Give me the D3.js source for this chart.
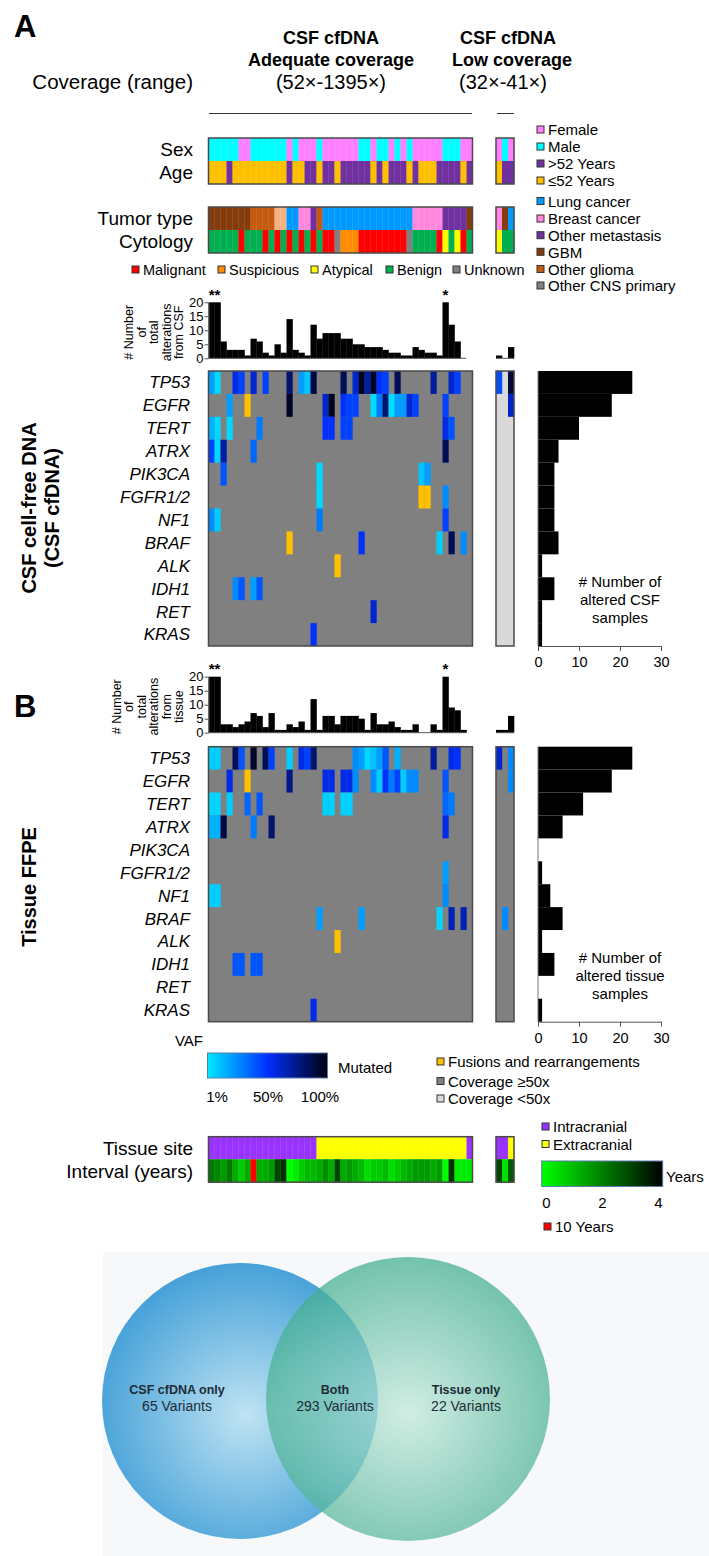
<!DOCTYPE html>
<html><head><meta charset="utf-8">
<script src="https://cdn.jsdelivr.net/npm/d3@7"></script>
<style>body{margin:0;background:#fff;} svg{display:block;font-family:"Liberation Sans",Arial,sans-serif;}</style>
</head><body><svg id="c" width="709" height="1556"></svg>
<script>
// ---------------- DATA ----------------
const nMain = 44, nLow = 3;
const genes = ["TP53","EGFR","TERT","ATRX","PIK3CA","FGFR1/2","NF1","BRAF","ALK","IDH1","RET","KRAS"];
// clinical tracks (44 adequate-coverage samples + 3 low-coverage samples)
const sexCodes   = ("MMMMMFFMMMMMMFMFFFMFFFFFFMMFMMFMFMFFFFFMMMFF" + "FMF").split("");
const ageCodes   = ("YYYOYYYYYYYYYOYYOOYOOYOOOOOYOYOOOYOYYYOOOOYO" + "YOO").split("");
const tumorCodes = ("GGGGGGGOOOOCCLLBBMOLLLLLLLLLLLLLLLBBBBBMMMMG" + "BGL").split("");
const cytoCodes  = ("NNNNNXNNNXNXNXNXNXNXXUSSSXXXXXXXXUNNNNXANAXN" + "ANN").split("");
const siteCodes  = ("IIIIIIIIIIIIIIIIIIEEEEEEEEEEEEEEEEEEEEEEEEEI" + "IIE").split("");
const intervalYears = [2.1,1.9,1.6,2.1,1.3,0.8,1.3,10,1.3,1.3,1.6,2.9,3.2,0,0.3,0.8,1.1,1.1,1.3,1.75,1.3,2.9,1.3,1.6,1.3,1.1,0.5,0.8,0.8,1.1,0.5,0.8,1.1,1.3,1.6,1.6,1.6,1.3,1.6,0,3.2,0.3,0.3,0.3, 2.9,0.5,2.6];
// total alterations per sample
const csfTotals    = [20,20,6,3,3,3,1,7,6,2,1,5,2,14,3,2,1,12,7,9,9,9,7,7,5,5,4,4,4,3,2,2,1,1,4,3,2,2,1,20,12,6,0,0, 1,0,4];
const tissueTotals = [20,20,3,3,2,3,4,7,6,2,7,1,1,3,2,4,1,12,1,6,6,3,6,6,6,5,1,7,3,3,4,2,1,1,3,0,0,3,1,20,9,8,1,0, 1,1,6];
// altered samples per gene
const csfGeneCounts    = [23,18,10,5,4,4,4,5,1,4,1,1];
const tissueGeneCounts = [23,18,11,6,0,1,3,6,1,4,0,1];
// heatmap cells: [sample index, VAF or "F" (fusion)]; indices 44-46 are low-coverage samples
const csfTP53   = [[0,.2],[1,.04],[4,.55],[5,.45],[7,.6],[9,.45],[13,.8],[15,.2],[16,.1],[17,.9],[22,.85],[24,.6],[25,.97],[26,.7],[27,.95],[28,.5],[29,.45],[31,.85],[37,.7],[40,.6],[41,.45],[44,.42],[46,.92]];
const csfEGFR   = [[3,.2],[6,"F"],[13,.95],[19,.6],[20,.97],[22,.5],[23,.45],[24,.45],[27,.03],[28,.3],[29,.8],[30,.03],[31,.2],[32,.2],[33,.6],[34,.45],[39,.45],[46,.62]];
const csfTERT   = [[0,.15],[1,.04],[3,.04],[8,.3],[19,.5],[20,.5],[22,.45],[23,.45],[39,.55],[40,.4]];
const csfATRX   = [[0,.45],[1,.05],[2,.7],[7,.35],[39,.85]];
const csfPIK3CA = [[2,.4],[18,.04],[35,.1],[36,.2]];
const csfFGFR   = [[18,.04],[35,"F"],[36,"F"],[39,.25]];
const csfNF1    = [[0,.25],[1,.08],[18,.3],[39,.45]];
const csfBRAF   = [[13,"F"],[25,.5],[38,.07],[40,.85],[42,.25]];
const csfALK    = [[21,"F"]];
const csfIDH1   = [[4,.25],[5,.4],[7,.2],[8,.4]];
const csfRET    = [[27,.6]];
const csfKRAS   = [[17,.5]];
const tisTP53   = [[0,.07],[1,.07],[4,.85],[5,.4],[7,.95],[9,.85],[10,.45],[13,.07],[15,.55],[16,.45],[17,.8],[24,.25],[25,.2],[26,.04],[27,.1],[28,.2],[29,.4],[31,.15],[37,.7],[40,.55],[41,.5],[44,.6],[46,.25]];
const tisEGFR   = [[3,.55],[6,"F"],[13,.75],[19,.55],[20,.55],[22,.55],[23,.55],[24,.25],[27,.25],[28,.07],[29,.5],[30,.3],[31,.45],[32,.07],[33,.25],[34,.25],[39,.4],[46,.25]];
const tisTERT   = [[0,.05],[1,.05],[3,.07],[6,.35],[8,.4],[19,.06],[20,.06],[22,.06],[23,.06],[39,.35],[40,.3]];
const tisATRX   = [[0,.15],[1,.15],[2,.9],[7,.3],[10,.8],[39,.55]];
const tisPIK3CA = [];
const tisFGFR   = [[39,.2]];
const tisNF1    = [[0,.07],[1,.07],[39,.25]];
const tisBRAF   = [[18,.2],[25,.2],[38,.05],[40,.65],[42,.65],[45,.25]];
const tisALK    = [[21,"F"]];
const tisIDH1   = [[4,.4],[5,.4],[7,.4],[8,.4]];
const tisRET    = [];
const tisKRAS   = [[17,.55]];
const csfCells = [csfTP53,csfEGFR,csfTERT,csfATRX,csfPIK3CA,csfFGFR,csfNF1,csfBRAF,csfALK,csfIDH1,csfRET,csfKRAS];
const tisCells = [tisTP53,tisEGFR,tisTERT,tisATRX,tisPIK3CA,tisFGFR,tisNF1,tisBRAF,tisALK,tisIDH1,tisRET,tisKRAS];
// venn
const vennLabels = ["CSF cfDNA only","Both","Tissue only"];
const vennCounts = [65,293,22];
// axis ticks
const altTicks = [0,5,10,15,20];
const geneTicks = [0,10,20,30];
const yearTicks = [0,2,4];

// ---------------- COLORS ----------------
const sexColor = {F:"#ff80ff", M:"#00ffff"};
const ageColor = {O:"#7030a0", Y:"#ffc000"};
const tumorColor = {L:"#0099ff", B:"#ff88dd", M:"#7030a0", G:"#843c0c", O:"#c55a11", C:"#f4b183"};
const cytoColor = {X:"#ff0000", S:"#ff8c00", A:"#ffff00", N:"#00b050", U:"#808080"};
const siteColor = {I:"#9933ff", E:"#ffff00"};
const vaf = d3.scaleLinear().domain([0,0.5,1]).range(["#00e8ff","#0030ff","#000010"]);
const yearColor = d3.scaleLinear().domain([0,4]).range(["#00ff00","#000000"]).clamp(true);
const FUSION = "#ffc000";

// ---------------- SCALES ----------------
const svg = d3.select("#c");
const xMain = d3.scaleBand().domain(d3.range(nMain)).range([208.5, 472.5]);
const xLow = d3.scaleBand().domain(d3.range(nMain, nMain+nLow)).range([496, 514]);
const xOf = i => i < nMain ? xMain(i) : xLow(i);
const cw = xMain.bandwidth();
const FRAME = "#4a4a4a";

function frame(x, y, w, h) {
  svg.append("rect").attr("x",x).attr("y",y).attr("width",w).attr("height",h)
    .attr("fill","none").attr("stroke",FRAME).attr("stroke-width",1.5);
}
function text(x, y, s, o={}) {
  const t = svg.append("text").attr("x",x).attr("y",y).text(s)
    .attr("font-size",o.size||14).attr("fill",o.fill||"#000")
    .attr("text-anchor",o.anchor||"start");
  if (o.weight) t.attr("font-weight",o.weight);
  if (o.style) t.attr("font-style",o.style);
  if (o.dy) t.attr("dy",o.dy);
  return t;
}
function track(y, h, codes, cmap) {
  svg.append("g").selectAll("rect").data(codes).join("rect")
    .attr("x",(d,i)=>xOf(i)).attr("y",y).attr("width",cw+0.3).attr("height",h)
    .attr("fill",(d,i)=> typeof cmap === "function" ? cmap(d) : cmap[d]);
}
function groupFrames(y, h) {
  frame(208.5, y, nMain*cw, h);
  frame(496, y, nLow*cw, h);
}

// ---------------- HEADER ----------------
text(14, 37, "A", {size:31, weight:"bold"});
text(14, 717, "B", {size:31, weight:"bold"});
text(331, 44, "CSF cfDNA", {size:18, weight:"bold", anchor:"middle"});
text(331, 66, "Adequate coverage", {size:18, weight:"bold", anchor:"middle"});
text(331, 89, "(52×-1395×)", {size:20, anchor:"middle"});
text(508, 44, "CSF cfDNA", {size:18, weight:"bold", anchor:"middle"});
text(512, 66, "Low coverage", {size:18, weight:"bold", anchor:"middle"});
text(503, 89, "(32×-41×)", {size:20, anchor:"middle"});
text(193, 89, "Coverage (range)", {size:20.5, anchor:"end"});
svg.append("line").attr("x1",209).attr("x2",472).attr("y1",113.5).attr("y2",113.5).attr("stroke","#333");
svg.append("line").attr("x1",497).attr("x2",514).attr("y1",113.5).attr("y2",113.5).attr("stroke","#333");

// ---------------- CLINICAL TRACKS ----------------
const trackH = 23;
track(138, trackH, sexCodes, sexColor);
track(161, trackH, ageCodes, ageColor);
groupFrames(138, 2*trackH);
track(207, trackH, tumorCodes, tumorColor);
track(230, trackH, cytoCodes, cytoColor);
groupFrames(207, 2*trackH);
text(193, 156, "Sex", {size:19, anchor:"end"});
text(193, 179, "Age", {size:19, anchor:"end"});
text(193, 225, "Tumor type", {size:19, anchor:"end"});
text(193, 248, "Cytology", {size:19, anchor:"end"});

function legendItem(x, y, color, label, size) {
  svg.append("rect").attr("x",x).attr("y",y-4).attr("width",7).attr("height",7)
    .attr("fill",color).attr("stroke","#333").attr("stroke-width",1);
  text(x+11, y, label, {size:size||15, dy:"0.35em"});
}
[["Female",sexColor.F,130],["Male",sexColor.M,147],[">52 Years",ageColor.O,164],["≤52 Years",ageColor.Y,181],
 ["Lung cancer",tumorColor.L,201.5],["Breast cancer",tumorColor.B,219],["Other metastasis",tumorColor.M,235.7],
 ["GBM",tumorColor.G,252.3],["Other glioma",tumorColor.O,269.5],["Other CNS primary","#808080",286]]
 .forEach(d=>legendItem(537, d[2], d[1], d[0]));
[["Malignant",cytoColor.X,132],["Suspicious",cytoColor.S,218],["Atypical",cytoColor.A,311],["Benign",cytoColor.N,386],["Unknown",cytoColor.U,453]]
 .forEach(d=>legendItem(d[2], 270, d[1], d[0], 14.5));

// ---------------- ALTERATION BAR CHARTS ----------------
function altBars(base, top, totals, labelLines, starY) {
  const y = d3.scaleLinear().domain([0,20]).range([base, top]);
  svg.append("g").selectAll("rect").data(totals).join("rect")
    .attr("x",(d,i)=>xOf(i)).attr("width",cw+0.3)
    .attr("y",d=>y(d)).attr("height",d=>base-y(d)).attr("fill","#000");
  const ax = svg.append("g").attr("transform",`translate(208.5,0)`)
    .call(d3.axisLeft(y).tickValues(altTicks).tickSize(4).tickSizeOuter(0));
  ax.selectAll("text").attr("font-size",13).attr("font-family",'"Liberation Sans",Arial,sans-serif').attr("fill","#000").attr("x",-5);
  ax.selectAll("line,path").attr("stroke","#555");
  svg.append("line").attr("x1",208.5).attr("x2",466).attr("y1",base).attr("y2",base).attr("stroke","#555");
  svg.append("line").attr("x1",496).attr("x2",514).attr("y1",base).attr("y2",base).attr("stroke","#555");
  text(xOf(0)+cw, starY, "**", {size:15, weight:"bold", anchor:"middle"});
  text(xOf(39)+cw/2, starY, "*", {size:15, weight:"bold", anchor:"middle"});
  const cy = (base+top)/2 + 2;
  const step = 12.5, x0 = 183 - (labelLines.length-1)*step;
  labelLines.forEach((l,k)=>{
    svg.append("text").attr("transform",`translate(${x0+k*step},${cy}) rotate(-90)`)
      .attr("text-anchor","middle").attr("font-size",12.5).text(l);
  });
}
altBars(358.3, 302.3, csfTotals, ["# Number","of","total","alterations","from CSF"], 300);
altBars(732.7, 676.7, tissueTotals, ["# Number","of","total","alterations","from","tissue"], 674);

// ---------------- HEATMAPS ----------------
function heatmap(top, cells, lowBg, counts, noteLines) {
  const yb = d3.scaleBand().domain(genes).range([top, top+275]);
  svg.append("rect").attr("x",208.5).attr("y",top).attr("width",nMain*cw).attr("height",275).attr("fill","#808080");
  svg.append("rect").attr("x",496).attr("y",top).attr("width",nLow*cw).attr("height",275).attr("fill",lowBg);
  genes.forEach((g,gi)=>{
    svg.append("g").selectAll("rect").data(cells[gi]).join("rect")
      .attr("x",d=>xOf(d[0])).attr("y",yb(g)).attr("width",cw+0.2).attr("height",yb.bandwidth())
      .attr("fill",d=> d[1]==="F" ? FUSION : vaf(d[1]));
    text(190, yb(g)+yb.bandwidth()/2, g, {size:17, style:"italic", anchor:"end", dy:"0.35em"});
  });
  groupFrames(top, 275);
  // right bar chart
  const xr = d3.scaleLinear().domain([0,30]).range([538, 661]);
  svg.append("g").selectAll("rect").data(counts).join("rect")
    .attr("x",xr(0)).attr("y",(d,i)=>yb(genes[i])).attr("width",d=>xr(d)-xr(0)).attr("height",yb.bandwidth())
    .attr("fill","#000");
  svg.append("line").attr("x1",538).attr("x2",538).attr("y1",top).attr("y2",top+275).attr("stroke","#777");
  const ax = svg.append("g").attr("transform",`translate(0,${top+275})`)
    .call(d3.axisBottom(xr).tickValues(geneTicks).tickSize(5).tickSizeOuter(0));
  ax.selectAll("text").attr("font-size",14.5).attr("font-family",'"Liberation Sans",Arial,sans-serif').attr("fill","#000").attr("dy","0.9em");
  ax.selectAll("line,path").attr("stroke","#555");
  noteLines.forEach((l,k)=> text(620, top+216+k*18, l, {size:15, anchor:"middle"}));
}
heatmap(371, csfCells, "#d9d9d9", csfGeneCounts, ["# Number of","altered CSF","samples"]);
heatmap(746.7, tisCells, "#808080", tissueGeneCounts, ["# Number of","altered tissue","samples"]);

// section labels
[["CSF cell-free DNA",36],["(CSF cfDNA)",59]].forEach(d=>{
  svg.append("text").attr("transform",`translate(${d[1]},508) rotate(-90)`).attr("text-anchor","middle")
    .attr("font-size",20).attr("font-weight","bold").text(d[0]);
});
svg.append("text").attr("transform",`translate(36,887) rotate(-90)`).attr("text-anchor","middle")
  .attr("font-size",20).attr("font-weight","bold").text("Tissue FFPE");

// ---------------- VAF LEGEND ----------------
const defs = svg.append("defs");
const gV = defs.append("linearGradient").attr("id","gv");
[[0,0],[0.5,0.5],[1,1]].forEach(d=>gV.append("stop").attr("offset",d[0]).attr("stop-color",vaf(d[1])));
svg.append("rect").attr("x",207.5).attr("y",1053).attr("width",120).attr("height",25).attr("fill","url(#gv)").attr("stroke","#5a7fae").attr("stroke-width",1);
text(203, 1041, "VAF", {size:15, anchor:"end", dy:"0.35em"});
text(338, 1068, "Mutated", {size:15, dy:"0.35em"});
const vx = d3.scaleLinear().domain([0.01,1]).range([217,320]);
[["1%",0.01],["50%",0.5],["100%",1]].forEach(d=> text(vx(d[1]), 1097, d[0], {size:15, anchor:"middle", dy:"0.35em"}));
legendItem(437, 1062, FUSION, "Fusions and rearrangements");
legendItem(437, 1081.5, "#808080", "Coverage ≥50x");
legendItem(437, 1099, "#d9d9d9", "Coverage <50x");

// ---------------- TISSUE SITE / INTERVAL ----------------
track(1136.7, 22.5, siteCodes, siteColor);
track(1159.2, 23, intervalYears, d => d >= 10 ? "#ff0000" : yearColor(d));
groupFrames(1136.7, 45.5);
text(193, 1155, "Tissue site", {size:19, anchor:"end"});
text(193, 1178, "Interval (years)", {size:19, anchor:"end"});
legendItem(542, 1127, siteColor.I, "Intracranial");
legendItem(542, 1144.5, siteColor.E, "Extracranial");
const gY = defs.append("linearGradient").attr("id","gy");
[0,4].forEach(d=>gY.append("stop").attr("offset",d/4).attr("stop-color",yearColor(d)));
const yx = d3.scaleLinear().domain([0,4]).range([546.5,658.5]);
svg.append("rect").attr("x",541.7).attr("y",1161).attr("width",121).attr("height",25.5).attr("fill","url(#gy)").attr("stroke","#5a7fae");
text(666, 1177, "Years", {size:15, dy:"0.35em"});
yearTicks.forEach(d=> text(yx(d), 1203, d, {size:15, anchor:"middle", dy:"0.35em"}));
legendItem(544, 1227, "#ff0000", "10 Years");

// ---------------- VENN ----------------
svg.append("rect").attr("x",103).attr("y",1252).attr("width",606).attr("height",304).attr("fill","#f7f8fa");
const rg1 = defs.append("radialGradient").attr("id","rg1").attr("cx","0.52").attr("cy","0.55").attr("r","0.6");
rg1.append("stop").attr("offset",0).attr("stop-color","#bfe3f3");
rg1.append("stop").attr("offset",1).attr("stop-color","#3b9bd6");
const rg2 = defs.append("radialGradient").attr("id","rg2").attr("cx","0.5").attr("cy","0.55").attr("r","0.6");
rg2.append("stop").attr("offset",0).attr("stop-color","#c2e9dc");
rg2.append("stop").attr("offset",1).attr("stop-color","#35a886");
svg.append("circle").attr("cx",240).attr("cy",1401).attr("r",138).attr("fill","url(#rg1)");
svg.append("circle").attr("cx",408).attr("cy",1399).attr("r",142).attr("fill","url(#rg2)").attr("fill-opacity",0.72);
const vx2 = [177, 335, 466];
vennLabels.forEach((l,i)=>{
  text(vx2[i], 1394, l, {size:12.5, weight:"bold", anchor:"middle", fill:"#1d2b36"});
  text(vx2[i], 1411, vennCounts[i] + " Variants", {size:14, anchor:"middle", fill:"#1d2b36"});
});
</script></body></html>
